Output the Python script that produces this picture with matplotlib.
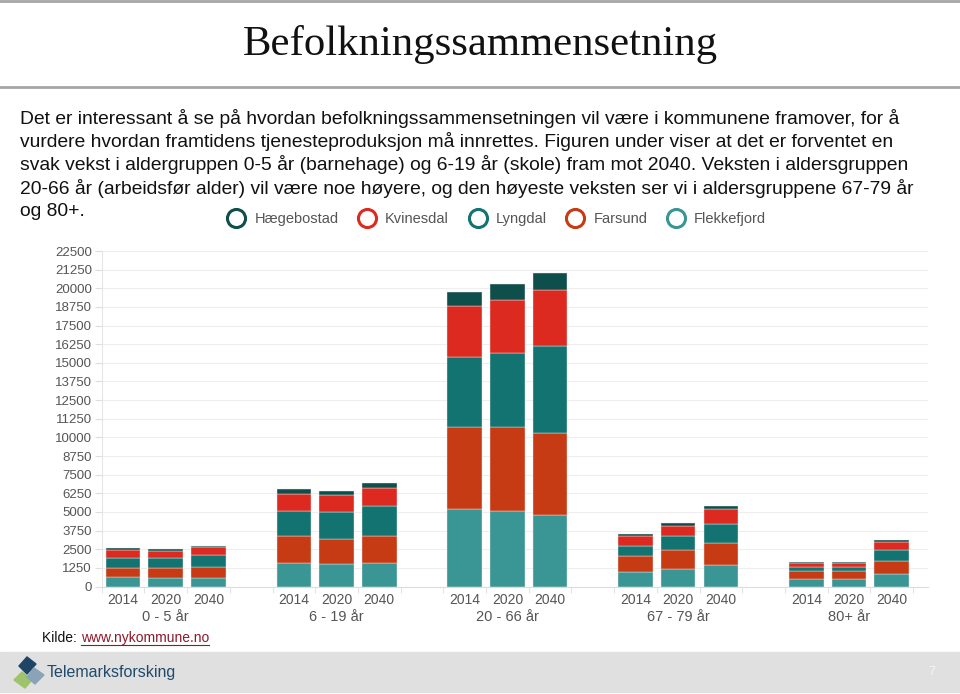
import matplotlib.pyplot as plt
from matplotlib.lines import Line2D
from matplotlib.patches import Rectangle, Polygon

plt.rcParams['font.family'] = ['Liberation Sans', 'DejaVu Sans']

# data
years = ['2014', '2020', '2040']
groups = ['0 - 5 år', '6 - 19 år', '20 - 66 år', '67 - 79 år', '80+ år']

# values per group, 3 years each (2014, 2020, 2040)
flekkefjord = [618, 591, 591, 1578, 1531, 1558, 5205, 5050, 4782, 974, 1175, 1424, 524, 484, 840]
farsund = [625, 650, 698, 1833, 1679, 1833, 5487, 5615, 5527, 1075, 1296, 1518, 497, 557, 893]
lyngdal = [692, 692, 806, 1679, 1793, 1995, 4674, 4997, 5843, 672, 940, 1256, 269, 269, 698]
kvinesdal = [517, 450, 537, 1121, 1142, 1249, 3425, 3560, 3714, 692, 672, 987, 289, 269, 578]
haegebostad = [120, 134, 100, 316, 289, 296, 987, 1048, 1142, 134, 201, 242, 80, 87, 94]

series = [('Flekkefjord', flekkefjord, '#3a9694'),
          ('Farsund', farsund, '#c63a14'),
          ('Lyngdal', lyngdal, '#137370'),
          ('Kvinesdal', kvinesdal, '#dd2a20'),
          ('Hægebostad', haegebostad, '#0f4f4b')]

W, H = 960, 694
fig = plt.figure(figsize=(W / 100, H / 100), dpi=100)

def fx(px):
    return px / W

def fy(py):
    return 1 - py / H

# top lines and title
fig.add_artist(Line2D([0, 1], [fy(1), fy(1)], color='#a6a6a6', lw=2))
fig.add_artist(Line2D([0, 1], [fy(87), fy(87)], color='#a6a6a6', lw=2))
fig.text(fx(480), fy(45), 'Befolkningssammensetning', ha='center', va='center',
         family='Liberation Serif', fontsize=30.8, color='#111111')

body = ['Det er interessant å se på hvordan befolkningssammensetningen vil være i kommunene framover, for å',
        'vurdere hvordan framtidens tjenesteproduksjon må innrettes. Figuren under viser at det er forventet en',
        'svak vekst i aldergruppen 0-5 år (barnehage) og 6-19 år (skole) fram mot 2040. Veksten i aldersgruppen',
        '20-66 år (arbeidsfør alder) vil være noe høyere, og den høyeste veksten ser vi i aldersgruppene 67-79 år',
        'og 80+.']
for i, line in enumerate(body):
    fig.text(fx(20), fy(118 + i * 23.5), line, ha='left', va='center',
             fontsize=13.9, color='#111111')

# chart
ax = fig.add_axes([fx(101.7), fy(586.5), fx(928) - fx(101.7), fy(251) - fy(586.5)])
xs = [g * 4 + y for g in range(len(groups)) for y in range(len(years))]
bottom = [0] * len(xs)
for name, vals, col in series:
    ax.bar(xs, vals, width=0.81, bottom=bottom, color=col, edgecolor='#e8e8e8', linewidth=0.3)
    bottom = [b + v for b, v in zip(bottom, vals)]

ax.set_xlim(-0.5, 18.85)
ax.set_ylim(0, 22500)
ax.set_yticks(range(0, 22501, 1250))
ax.tick_params(axis='y', labelsize=9.5, colors='#555555', length=5, color='#dddddd', pad=2)
ax.set_xticks(xs)
ax.set_xticklabels([y for g in groups for y in years])
ax.tick_params(axis='x', labelsize=10, colors='#555555', length=0, pad=5)
ax.set_xticks([g * 4 + k - 0.5 for g in range(len(groups)) for k in range(4)], minor=True)
ax.tick_params(axis='x', which='minor', length=4, color='#dddddd')
ax.grid(axis='y', color='#eeeeee', lw=0.8)
ax.set_axisbelow(True)
for s in ['top', 'right']:
    ax.spines[s].set_visible(False)
ax.spines['left'].set_color('#e6e6e6')
ax.spines['bottom'].set_color('#dcdcdc')
for g, name in enumerate(groups):
    ax.text(g * 4 + 1, -0.09, name, transform=ax.get_xaxis_transform(),
            ha='center', va='center', fontsize=10.5, color='#555555')

handles = [Line2D([], [], marker='o', ls='', markersize=13, markerfacecolor='white',
                  markeredgecolor=col, markeredgewidth=2.2, label=name)
           for name, vals, col in series[::-1]]
fig.legend(handles=handles, loc='center', bbox_to_anchor=(fx(494), fy(219)), ncol=5,
           frameon=False, fontsize=10.5, labelcolor='#555555', handletextpad=0.25,
           columnspacing=0.95)

# source
fig.text(fx(42), fy(638), 'Kilde: ', ha='left', va='center', fontsize=10, color='#111111')
fig.text(fx(81), fy(638), 'www.nykommune.no', ha='left', va='center', fontsize=10,
         color='#8b1a2b')
fig.add_artist(Line2D([fx(81), fx(209)], [fy(645), fy(645)], color='#8b1a2b', lw=0.8))

# footer band with logo
fig.add_artist(Rectangle((0, fy(692)), 1, fy(652) - fy(692), transform=fig.transFigure,
                         color='#e0e0e0', zorder=0))
fig.add_artist(Polygon([[fx(27), fy(657)], [fx(36), fy(664)], [fx(27), fy(674)], [fx(19), fy(666)]],
                       closed=True, transform=fig.transFigure, color='#1e4466'))
fig.add_artist(Polygon([[fx(22), fy(672)], [fx(32), fy(680)], [fx(25), fy(688)], [fx(14), fy(680)]],
                       closed=True, transform=fig.transFigure, color='#9fc36a'))
fig.add_artist(Polygon([[fx(34), fy(668)], [fx(44), fy(675)], [fx(35), fy(684)], [fx(27), fy(677)]],
                       closed=True, transform=fig.transFigure, color='#8aa3b8'))
fig.text(fx(47), fy(672), 'Telemarksforsking', ha='left', va='center', fontsize=11.5,
         color='#1f4a6b')
fig.text(fx(932), fy(672), '7', ha='center', va='center', fontsize=9, color='#f5f5f5')

fig.savefig('out.png', dpi=100)
